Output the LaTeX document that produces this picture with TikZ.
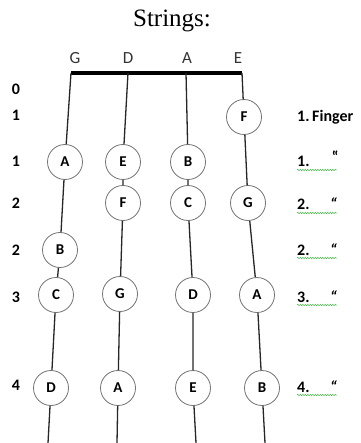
\documentclass[tikz,border=0pt]{standalone}
\usepackage{fontspec}
\setmainfont{Carlito}
\newfontfamily\titlefont{Liberation Serif}
\usetikzlibrary{decorations.pathmorphing}
\begin{document}
\begin{tikzpicture}[x=1pt,y=-1pt,
  note/.style={circle,draw=black!55,line width=0.8pt,fill=white,minimum size=35pt,inner sep=0pt,font=\bfseries\fontsize{15}{15}\selectfont},
  str/.style={line width=1.3pt,black!85},
  lbl/.style={font=\bfseries\fontsize{16}{16}\selectfont},
  strname/.style={font=\fontsize{17}{17}\selectfont,text=black!80},
  wavy/.style={draw=green!60!black!70,line width=0.5pt,decorate,decoration={snake,amplitude=0.7pt,segment length=2.5pt}}]
\useasboundingbox (0,0) rectangle (360,443);
% title
\node[font=\titlefont\fontsize{25}{25}\selectfont] (title) at (172,21) {Strings:};
% string names
\node[strname] (nG) at (75,58) {G};
\node[strname] (nD) at (128,58) {D};
\node[strname] (nA) at (187,58) {A};
\node[strname] (nE) at (238,58) {E};
% nut
\coordinate (tG) at (71,73);
\coordinate (tD) at (128,73);
\coordinate (tA) at (186,73);
\coordinate (tE) at (242,73);
\draw[line width=4pt] (tG) -- (tE);
% bottom ends
\coordinate (bG) at (48,443);
\coordinate (bD) at (117,443);
\coordinate (bA) at (196,443);
\coordinate (bE) at (265,443);
% notes
\node[note] (G1) at (65,162) {A};
\node[note] (G2) at (60,250) {B};
\node[note] (G3) at (56,295) {C};
\node[note] (G4) at (51,388) {D};
\node[note] (D1) at (123,162) {E};
\node[note] (D2) at (123,203) {F};
\node[note] (D3) at (120,294) {G};
\node[note] (D4) at (118,388) {A};
\node[note] (A1) at (188,162) {B};
\node[note] (A2) at (188,203) {C};
\node[note] (A3) at (193,295) {D};
\node[note] (A4) at (193,388) {E};
\node[note] (E1) at (244,117) {F};
\node[note] (E2) at (248,203) {G};
\node[note] (E3) at (257,295) {A};
\node[note] (E4) at (262,388) {B};
% strings
\draw[str] (tG.center) -- (G1) (G1) -- (G2) (G2) -- (G3) (G3) -- (G4) (G4) -- (bG);
\draw[str] (tD.center) -- (D1) (D1) -- (D2) (D2) -- (D3) (D3) -- (D4) (D4) -- (bD);
\draw[str] (tA.center) -- (A1) (A1) -- (A2) (A2) -- (A3) (A3) -- (A4) (A4) -- (bA);
\draw[str] (tE.center) -- (E1) (E1) -- (E2) (E2) -- (E3) (E3) -- (E4) (E4) -- (bE);
% left fret numbers
\node[lbl] (f0) at (16,89) {0};
\node[lbl] (f1) at (16,115) {1};
\node[lbl] (f1b) at (16,161) {1};
\node[lbl] (f2) at (16,203) {2};
\node[lbl] (f2b) at (16,250) {2};
\node[lbl] (f3) at (16,297) {3};
\node[lbl] (f4) at (16,385) {4};
% right finger labels
\node[lbl,anchor=base west,inner sep=0pt] (r0) at (297,122) {1.\,Finger};
\node[lbl,anchor=base west,inner sep=0pt] (r1) at (297,167) {1.};
\node[lbl,anchor=base west,inner sep=0pt] (q1) at (331,163) {\itshape ‟};
\node[lbl,anchor=base west,inner sep=0pt] (r2) at (297,210) {2.};
\node[lbl,anchor=base west,inner sep=0pt] (q2) at (330,210) {\itshape “};
\node[lbl,anchor=base west,inner sep=0pt] (r3) at (297,255) {2.};
\node[lbl,anchor=base west,inner sep=0pt] (q3) at (330,255) {\itshape “};
\node[lbl,anchor=base west,inner sep=0pt] (r4) at (297,302) {3.};
\node[lbl,anchor=base west,inner sep=0pt] (q4) at (330,302) {\itshape “};
\node[lbl,anchor=base west,inner sep=0pt] (r5) at (297,392) {4.};
\node[lbl,anchor=base west,inner sep=0pt] (q5) at (330,392) {\itshape “};
% wavy underlines
\draw[wavy] (297,170) -- (337,170);
\draw[wavy] (297,213) -- (337,213);
\draw[wavy] (297,258) -- (337,258);
\draw[wavy] (297,305) -- (337,305);
\draw[wavy] (297,395) -- (337,395);
\end{tikzpicture}
\end{document}
